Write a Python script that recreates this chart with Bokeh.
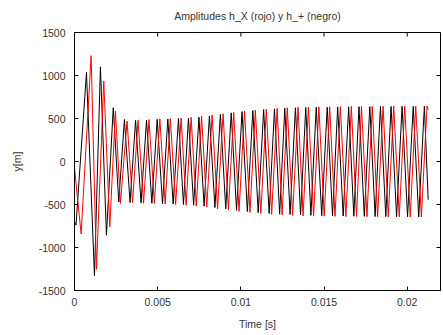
import math
from bokeh.plotting import figure
from bokeh.models import FixedTicker, Range1d, Title
from bokeh.embed import file_html
from bokeh.resources import INLINE

# ---- data (extrema) ----
black_t = [0.00000, 0.00009, 0.00072, 0.00120, 0.00156, 0.00192, 0.00233, 0.00266, 0.00300,
           0.00334, 0.00367, 0.00400, 0.00433, 0.00465, 0.00497, 0.00529, 0.00561, 0.00593, 0.00625,
           0.00655, 0.00685, 0.00716, 0.00748, 0.00779, 0.00811, 0.00844, 0.00877, 0.00909, 0.00942,
           0.00974, 0.01007, 0.01039, 0.01072, 0.01104, 0.01137, 0.01170, 0.01202, 0.01233, 0.01264,
           0.01296, 0.01328, 0.01359, 0.01390, 0.01421, 0.01453, 0.01486, 0.01519, 0.01551, 0.01582,
           0.01615, 0.01648, 0.01679, 0.01710, 0.01742, 0.01775, 0.01807, 0.01839, 0.01871, 0.01903,
           0.01936, 0.01969, 0.02002, 0.02036, 0.02069, 0.02103, 0.02126]
black_y = [-700, -740, 1035, -1328, 1100, -857, 625, -470, 488,
           -478, 478, -480, 482, -485, 490, -490, 495, -495, 500,
           -500, 505, -508, 515, -520, 530, -535, 548, -550, 565,
           -568, 580, -582, 592, -595, 603, -605, 612, -612, 620,
           -618, 625, -622, 628, -626, 630, -630, 632, -632, 635,
           -634, 636, -636, 638, -638, 638, -640, 640, -640, 640,
           -642, 642, -642, 640, -644, 642, -445]

red_t = [0.00000, 0.00040, 0.00100, 0.00132, 0.00176, 0.00212, 0.00246, 0.00276, 0.00316,
         0.00349, 0.00382, 0.00415, 0.00448, 0.00480, 0.00513, 0.00545, 0.00576, 0.00608, 0.00641,
         0.00671, 0.00701, 0.00732, 0.00764, 0.00795, 0.00827, 0.00860, 0.00893, 0.00925, 0.00957,
         0.00989, 0.01022, 0.01055, 0.01087, 0.01120, 0.01153, 0.01185, 0.01218, 0.01248, 0.01279,
         0.01311, 0.01344, 0.01374, 0.01406, 0.01437, 0.01469, 0.01501, 0.01534, 0.01566, 0.01598,
         0.01631, 0.01664, 0.01695, 0.01725, 0.01758, 0.01790, 0.01822, 0.01855, 0.01886, 0.01919,
         0.01952, 0.01985, 0.02018, 0.02051, 0.02085, 0.02119, 0.02126]
red_y = [-78, -843, 1230, -1253, 935, -760, 585, -488, 470,
         -480, 480, -485, 488, -490, 495, -495, 500, -500, 505,
         -508, 515, -518, 525, -530, 540, -548, 555, -565, 570,
         -580, 585, -592, 598, -605, 610, -615, 618, -622, 625,
         -628, 630, -632, 632, -635, 635, -636, 636, -638, 638,
         -640, 640, -640, 640, -642, 642, -642, 642, -644, 644,
         -644, 645, -645, 645, -646, 646, 600]

title_text = "Amplitudes h_X (rojo) y h_+ (negro)"
x_ticks = [0, 0.005, 0.01, 0.015, 0.02]
x_tick_labels = ["0", "0.005", "0.01", "0.015", "0.02"]
y_ticks = [-1500, -1000, -500, 0, 500, 1000, 1500]
y_tick_labels = ["-1500", "-1000", "-500", "0", "500", "1000", "1500"]
x_min, x_max = 0, 0.022
y_min, y_max = -1500, 1500

FONT = "Liberation Sans"
TXT = "#333333"
FS = "10.5px"

p = figure(width=442, height=334, output_backend="svg", toolbar_location=None,
           x_range=Range1d(x_min, x_max), y_range=Range1d(y_min, y_max),
           min_border_left=74, min_border_right=2, min_border_top=32, min_border_bottom=44)
p.title = Title(text=title_text, align="center", vertical_align="top",
                text_font=FONT, text_font_size=FS, text_font_style="normal",
                text_color=TXT, standoff=18)
p.xgrid.visible = False
p.ygrid.visible = False
p.outline_line_color = "black"
p.outline_line_width = 1
p.background_fill_color = "white"
p.border_fill_color = "white"

p.line(black_t, black_y, line_color="black", line_width=1)
p.line(red_t, red_y, line_color="#ff0000", line_width=1)

# mirrored inward ticks on top and right borders
p.ray(x=x_ticks, y=[y_max] * len(x_ticks), length=4, length_units="screen",
      angle=-math.pi / 2, line_color="black", line_width=1)
p.ray(x=[x_max] * len(y_ticks), y=y_ticks, length=4, length_units="screen",
      angle=math.pi, line_color="black", line_width=1)

def style(ax):
    ax.major_tick_in = 4
    ax.major_tick_out = 0
    ax.minor_tick_in = 0
    ax.minor_tick_out = 0
    ax.axis_line_color = "black"
    ax.major_tick_line_color = "black"
    ax.major_label_text_font = FONT
    ax.major_label_text_font_size = FS
    ax.major_label_text_color = TXT
    ax.axis_label_text_font = FONT
    ax.axis_label_text_font_size = FS
    ax.axis_label_text_font_style = "normal"
    ax.axis_label_text_color = TXT

xa = p.xaxis[0]
xa.ticker = FixedTicker(ticks=x_ticks)
xa.major_label_overrides = {t: l for t, l in zip(x_ticks, x_tick_labels)}
xa.axis_label = "Time [s]"
xa.major_label_standoff = 7
xa.axis_label_standoff = 9
style(xa)

ya = p.yaxis[0]
ya.ticker = FixedTicker(ticks=y_ticks)
ya.major_label_overrides = {t: l for t, l in zip(y_ticks, y_tick_labels)}
ya.axis_label = "y[m]"
ya.major_label_standoff = 9
ya.axis_label_standoff = 13
style(ya)

open("out.html", "w").write(file_html(p, INLINE))
